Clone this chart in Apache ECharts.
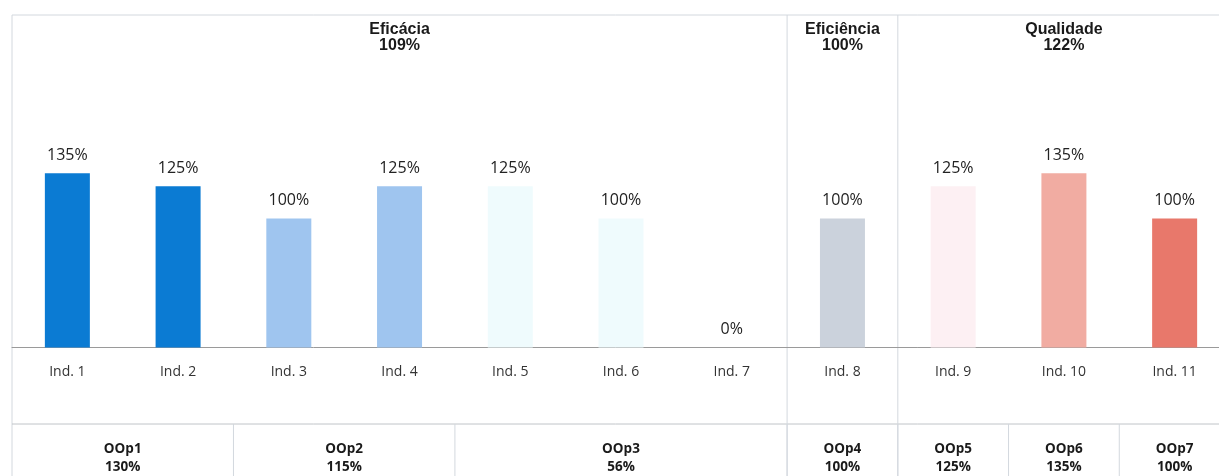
<!DOCTYPE html>
<html>
<head>
<meta charset="utf-8">
<script src="https://cdn.jsdelivr.net/npm/echarts@6/dist/echarts.min.js"></script>
<style>
  html, body { margin: 0; padding: 0; background: #fff; }
  #chart { width: 1219px; height: 476px; }
</style>
</head>
<body>
<div id="chart"></div>
<script>
// Indicators and their achievement (%)
const categories = ['Ind. 1', 'Ind. 2', 'Ind. 3', 'Ind. 4', 'Ind. 5', 'Ind. 6', 'Ind. 7', 'Ind. 8', 'Ind. 9', 'Ind. 10', 'Ind. 11'];
const values = [135, 125, 100, 125, 125, 100, 0, 100, 125, 135, 100];

// Dimension headers (how many indicators each one covers)
const groupNames = ['Eficácia', 'Eficiência', 'Qualidade'];
const groupValues = [109, 100, 122];
const groupSpans = [7, 1, 3];

// Operational objectives row
const objectiveNames = ['OOp1', 'OOp2', 'OOp3', 'OOp4', 'OOp5', 'OOp6', 'OOp7'];
const objectiveValues = [130, 115, 56, 100, 125, 135, 100];
const objectiveSpans = [2, 2, 3, 1, 1, 1, 1];

// One fill per indicator bar
const barColors = ['#0b7bd3', '#0b7bd3', '#9fc5ef', '#9fc5ef', '#effbfd', '#effbfd', '#effbfd',
                   '#cbd2dc', '#fdf0f3', '#f1aca2', '#e8786b'];

const FRAME = '#d3d8de';
const TOP = 15, TABLE_TOP = 424, BOTTOM = 476;

const chart = echarts.init(document.getElementById('chart'), null, { renderer: 'canvas' });

chart.setOption({
  animation: false,
  grid: { left: 12, top: 89.5, width: 1218, height: 258, outerBoundsMode: 'none', containLabel: false },
  xAxis: {
    type: 'category',
    data: categories,
    axisLine: { lineStyle: { color: '#9a9a9a', width: 1 } },
    axisTick: { length: 4, lineStyle: { color: '#aaaaaa' } },
    axisLabel: { margin: 18, fontSize: 14, color: '#333', fontFamily: 'Open Sans' }
  },
  yAxis: { type: 'value', min: 0, max: 200, show: false },
  series: [{
    type: 'bar',
    barWidth: 45,
    data: values.map((v, i) => ({ value: v, itemStyle: { color: barColors[i] } })),
    label: {
      show: true, position: 'top', distance: 10,
      formatter: '{c}%', fontSize: 16, color: '#222', fontFamily: 'Open Sans'
    }
  }]
});

// Frame, separators, headers and objective row placed on the category bands
const c0 = chart.convertToPixel({ xAxisIndex: 0 }, 0);
const c1 = chart.convertToPixel({ xAxisIndex: 0 }, 1);
const bw = c1 - c0;
const edge = k => c0 - bw / 2 + k * bw;
const W = 1219;

const line = (x1, y1, x2, y2, color) => ({
  type: 'line', silent: true,
  shape: { x1, y1, x2, y2 },
  style: { stroke: color || FRAME, lineWidth: 1 }
});

const elements = [];
elements.push(line(edge(0), TOP, W, TOP));
elements.push(line(edge(0), TOP, edge(0), BOTTOM));
elements.push(line(edge(0), TABLE_TOP, W, TABLE_TOP, '#c0c4c8'));

let k = 0;
groupSpans.forEach((span, g) => {
  const a = edge(k), b = edge(k + span);
  if (g > 0) elements.push(line(a, TOP, a, BOTTOM));
  elements.push({
    type: 'text', silent: true, x: (a + b) / 2, y: 38,
    style: {
      text: groupNames[g] + '\n' + groupValues[g] + '%',
      align: 'center', verticalAlign: 'middle',
      fontSize: 16, fontWeight: 'bold', fontFamily: 'Liberation Sans', lineHeight: 16, fill: '#1a1a1a'
    }
  });
  k += span;
});

k = 0;
objectiveSpans.forEach((span, o) => {
  const a = edge(k), b = edge(k + span);
  if (o > 0) elements.push(line(a, TABLE_TOP, a, BOTTOM));
  elements.push({
    type: 'text', silent: true, x: (a + b) / 2, y: 458,
    style: {
      text: objectiveNames[o] + '\n' + objectiveValues[o] + '%',
      align: 'center', verticalAlign: 'middle',
      fontSize: 13.5, fontWeight: 'bold', fontFamily: 'Open Sans', lineHeight: 18, fill: '#1a1a1a'
    }
  });
  k += span;
});

chart.setOption({ graphic: { elements } });
</script>
</body>
</html>
